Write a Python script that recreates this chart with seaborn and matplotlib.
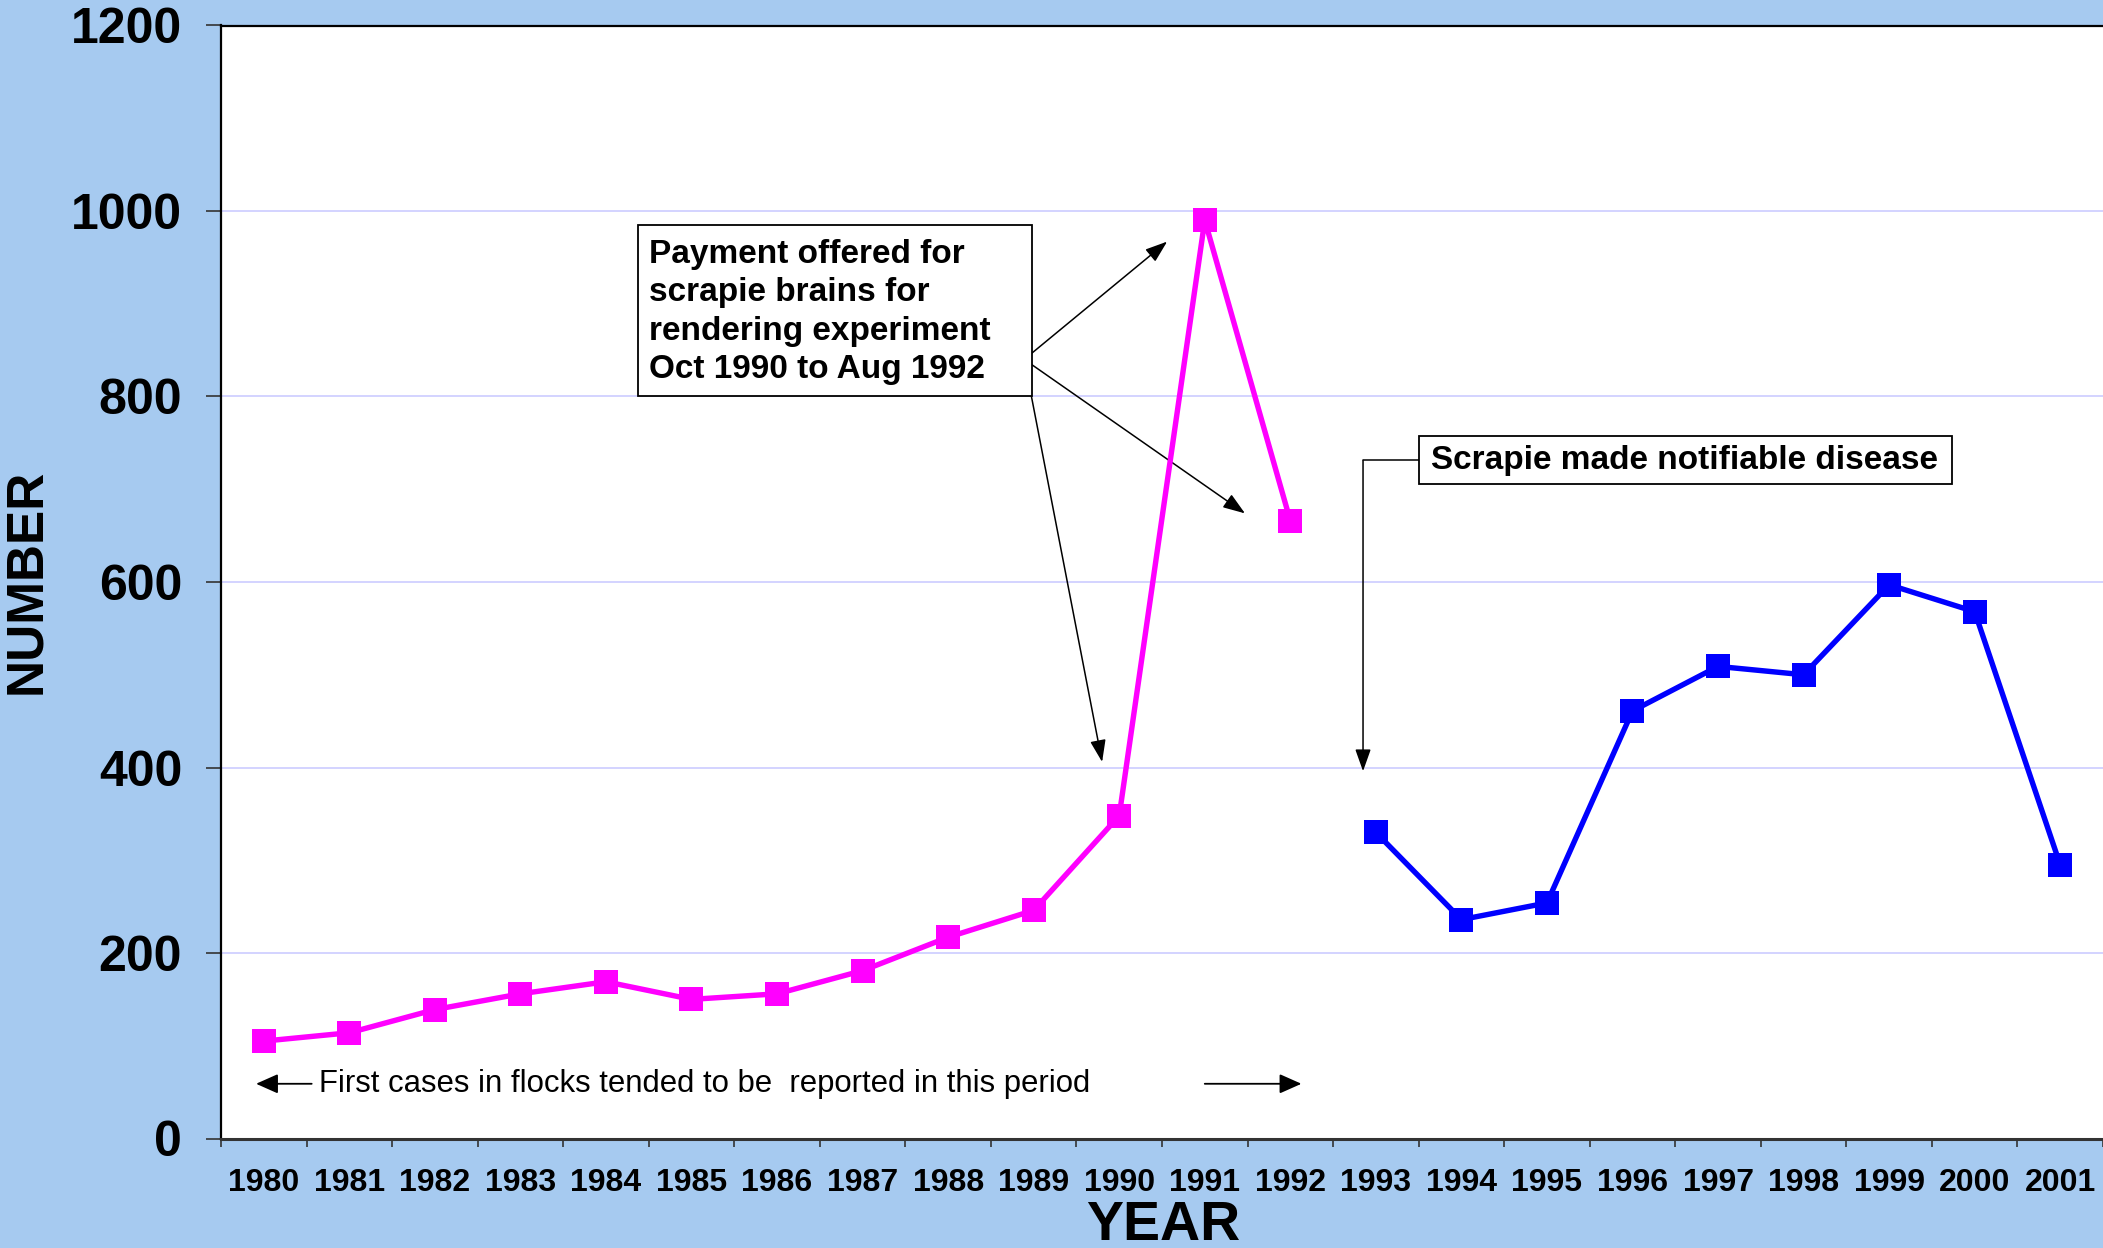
import matplotlib
matplotlib.use("Agg")
import matplotlib.pyplot as plt
import seaborn as sns
import pandas as pd
from matplotlib.patches import Rectangle

# ---- data ----
years_before = [1980, 1981, 1982, 1983, 1984, 1985, 1986, 1987, 1988, 1989, 1990, 1991, 1992]
cases_before = [105, 114, 139, 156, 169, 150, 156, 181, 217, 246, 348, 990, 666]
years_after = [1993, 1994, 1995, 1996, 1997, 1998, 1999, 2000, 2001]
cases_after = [330, 236, 254, 461, 509, 500, 597, 568, 295]
tick_years = list(range(1980, 2002))
y_ticks = [0, 200, 400, 600, 800, 1000, 1200]

BG = "#A6CAF0"
MAGENTA = "#FF00FF"
BLUE = "#0000FF"
GRID = "#CCCCFF"

sns.set_style("white")
plt.rcParams["font.family"] = ["Liberation Sans", "DejaVu Sans"]
plt.rcParams["text.color"] = "black"
plt.rcParams["axes.labelcolor"] = "black"
plt.rcParams["xtick.color"] = "black"
plt.rcParams["ytick.color"] = "black"

fig = plt.figure(figsize=(21.03, 12.48), dpi=100, facecolor=BG)
ax = fig.add_axes([221 / 2103, 1 - 1138.5 / 1248, 1 - 221 / 2103, (1138.5 - 25.5) / 1248])
ax.set_facecolor("white")

df1 = pd.DataFrame({"year": years_before, "cases": cases_before})
df2 = pd.DataFrame({"year": years_after, "cases": cases_after})

sns.lineplot(data=df1, x="year", y="cases", ax=ax, color=MAGENTA, lw=3.9,
             marker="s", markersize=17, markeredgewidth=0, zorder=5)
sns.lineplot(data=df2, x="year", y="cases", ax=ax, color=BLUE, lw=3.9,
             marker="s", markersize=17, markeredgewidth=0, zorder=5)

ax.set_xlim(1979.5, 2001.5)
ax.set_ylim(0, 1200)

ax.set_yticks(y_ticks)
ax.set_yticklabels([str(v) for v in y_ticks], fontsize=36, fontweight="bold", color="black")
ax.tick_params(axis="y", direction="out", length=11, width=1.2, color="#333333", pad=17, left=True)

ax.set_xticks(tick_years)
ax.set_xticklabels([str(y) for y in tick_years], fontsize=23, fontweight="bold", color="black")
ax.set_xticks([y - 0.5 for y in tick_years] + [2001.5], minor=True)
ax.tick_params(axis="x", which="major", length=0, pad=21)
ax.tick_params(axis="x", which="minor", direction="out", length=6, width=1.2, color="#333333", bottom=True)

ax.grid(axis="y", color=GRID, lw=1.2, zorder=0)
ax.grid(axis="x", visible=False)
ax.set_axisbelow(True)

for s in ["left", "top"]:
    ax.spines[s].set_color("black")
    ax.spines[s].set_linewidth(1.6)
ax.spines["bottom"].set_color("#333333")
ax.spines["bottom"].set_linewidth(2.2)
ax.spines["right"].set_visible(False)

ax.set_xlabel("")
ax.set_ylabel("")
fig.text(27 / 2103, 1 - 581 / 1248, "NUMBER", rotation=90, ha="center", va="center",
         fontsize=37, fontweight="bold", color="black")
fig.text(1163 / 2103, 1 - 1226 / 1248, "YEAR", ha="center", va="center",
         fontsize=40, fontweight="bold", color="black")

# ---- annotation box 1 ----
ax.add_patch(Rectangle((1984.37, 801), 8.98 - 4.37, 985 - 801, fill=True, facecolor="white",
                       edgecolor="black", lw=1.3, zorder=6))
ax.text(1984.50, 891, "Payment offered for\nscrapie brains for\nrendering experiment\nOct 1990 to Aug 1992",
        ha="left", va="center", fontsize=24, fontweight="bold", linespacing=1.3, zorder=7, color="black")

origin = (1988.89, 840)
for tip in [(1990.56, 967), (1991.47, 674), (1989.80, 406)]:
    ax.annotate("", xy=tip, xytext=origin,
                arrowprops=dict(arrowstyle="-|>,head_length=0.9,head_width=0.32", color="black",
                                lw=1.1, mutation_scale=15, shrinkA=0, shrinkB=0), zorder=4)

# ---- annotation box 2 ----
ax.add_patch(Rectangle((1993.51, 705.5), 19.73 - 13.51, 757.6 - 705.5, fill=True, facecolor="white",
                       edgecolor="black", lw=1.3, zorder=6))
ax.text(1993.64, 731, "Scrapie made notifiable disease", ha="left", va="center",
        fontsize=24, fontweight="bold", zorder=7, color="black")
ax.plot([1993.51, 1992.85], [731, 731], color="black", lw=1.1, zorder=4)
ax.annotate("", xy=(1992.85, 396), xytext=(1992.85, 731),
            arrowprops=dict(arrowstyle="-|>,head_length=0.9,head_width=0.32", color="black",
                            lw=1.1, mutation_scale=15, shrinkA=0, shrinkB=0), zorder=4)

# ---- bottom period note ----
ax.text(1980.64, 59, "First cases in flocks tended to be  reported in this period",
        ha="left", va="center", fontsize=22.4, color="black")
ax.annotate("", xy=(1979.91, 59), xytext=(1980.56, 59),
            arrowprops=dict(arrowstyle="-|>,head_length=0.9,head_width=0.4", color="black",
                            lw=1.3, mutation_scale=15, shrinkA=0, shrinkB=0))
ax.annotate("", xy=(1992.13, 59), xytext=(1991.0, 59),
            arrowprops=dict(arrowstyle="-|>,head_length=0.9,head_width=0.4", color="black",
                            lw=1.3, mutation_scale=15, shrinkA=0, shrinkB=0))

fig.savefig("out.png", dpi=100, facecolor=BG)
